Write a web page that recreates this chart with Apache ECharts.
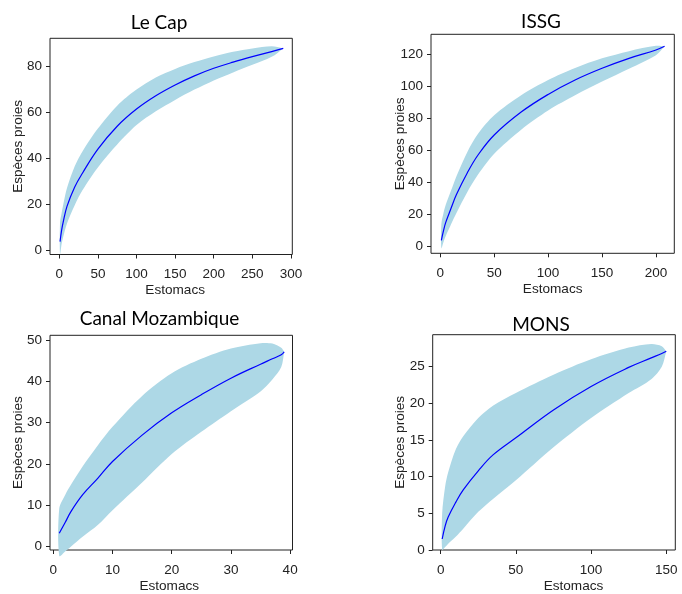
<!DOCTYPE html>
<html>
<head>
<meta charset="utf-8">
<script src="https://cdn.jsdelivr.net/npm/echarts@6/dist/echarts.min.js"></script>
<style>
html,body{margin:0;padding:0;background:#fff;}
#chart{width:682px;height:594px;}
</style>
</head>
<body>
<div id="chart"></div>
<script>
// ---------- data ----------
const titles = ['Le Cap', 'ISSG', 'Canal Mozambique', 'MONS'];
const xAxisName = 'Estomacs';
const yAxisName = 'Espèces proies';

// Le Cap
const capX     = [1, 3, 5, 10, 20, 30, 50, 75, 100, 125, 150, 175, 200, 225, 250, 275, 290];
const capMean  = [3.6, 8.5, 12, 19, 27.5, 33.5, 44, 54, 61.5, 67.3, 72, 76, 79.3, 82, 84.4, 86.6, 88];
const capUpper = [12, 16, 19.5, 27, 36.5, 43, 53, 63, 70, 75.3, 79, 82, 84.5, 86.5, 88, 88.9, 88];
const capLower = [-2, 2.5, 5.5, 11.5, 19.5, 26, 36, 46, 54.5, 60.5, 65.5, 70, 74, 77.5, 80.8, 84.3, 88];
const capXTicks = [0, 50, 100, 150, 200, 250, 300];
const capYTicks = [0, 20, 40, 60, 80];

// ISSG
const issgX     = [1, 3, 5, 10, 15, 25, 35, 50, 75, 100, 125, 150, 175, 200, 208];
const issgMean  = [4, 10, 15, 24, 32.5, 46, 57.2, 69.7, 84, 95, 104, 111.3, 117.5, 122.7, 125];
const issgUpper = [14, 21, 26, 35, 44, 59, 70.5, 82, 94.5, 104, 111.5, 117.5, 122, 125.3, 125];
const issgLower = [-1, 3, 6.5, 14, 21, 34, 45, 58, 73, 85, 94.5, 103, 111, 119.5, 125];
const issgXTicks = [0, 50, 100, 150, 200];
const issgYTicks = [0, 20, 40, 60, 80, 100, 120];

// Canal Mozambique
const canX     = [1, 2, 3, 5, 7.5, 10, 15, 20, 25, 30, 35, 37, 38.5, 39];
const canMean  = [3.2, 5.8, 8.5, 12.6, 16.5, 20.6, 27, 32.4, 36.8, 40.8, 44.2, 45.5, 46.5, 47.2];
const canUpper = [9.2, 12.5, 15, 19.5, 24.5, 29, 36.5, 42, 45.5, 48, 49.3, 49.2, 48.2, 47.2];
const canLower = [-2.3, -1.2, 0, 2.4, 5.2, 8.8, 15.5, 22.4, 27.8, 32.8, 37.6, 40.5, 43.5, 47.2];
const canXTicks = [0, 10, 20, 30, 40];
const canYTicks = [0, 10, 20, 30, 40, 50];

// MONS
const monsX     = [1, 3, 5, 10, 15, 25, 35, 50, 75, 100, 125, 140, 147, 150];
const monsMean  = [1.5, 3.3, 4.5, 6.5, 8.2, 10.8, 13.0, 15.3, 19.1, 22.3, 24.9, 26.2, 26.8, 27.1];
const monsUpper = [5, 8.7, 10.6, 13.7, 15.5, 18, 19.7, 21.4, 23.9, 26, 27.6, 28.1, 27.8, 27.1];
const monsLower = [0, 0.4, 0.85, 1.8, 2.9, 5.2, 7, 9.5, 14, 18, 21.4, 23.3, 25, 27.1];
const monsXTicks = [0, 50, 100, 150];
const monsYTicks = [0, 5, 10, 15, 20, 25];

// ---------- layout ----------
const panels = [
  {x: capX, mean: capMean, up: capUpper, lo: capLower, xt: capXTicks, yt: capYTicks,
   grid: {left: 50, top: 38.3, width: 242.3, height: 216.2},
   xr: [-12, 301.7], yr: [-2, 92.4], title: {x: 159, y: 13}, xPad: 8, yGap: 25},
  {x: issgX, mean: issgMean, up: issgUpper, lo: issgLower, xt: issgXTicks, yt: issgYTicks,
   grid: {left: 431, top: 34.3, width: 243.3, height: 219},
   xr: [-8.6, 217], yr: [-4.1, 132.5], title: {x: 541, y: 12}, xPad: 0, yGap: 24},
  {x: canX, mean: canMean, up: canUpper, lo: canLower, xt: canXTicks, yt: canYTicks,
   grid: {left: 50, top: 335.3, width: 242.5, height: 217},
   xr: [-0.56, 40.4], yr: [-0.86, 51.2], title: {x: 159.5, y: 309}, xPad: -4, yGap: 25},
  {x: monsX, mean: monsMean, up: monsUpper, lo: monsLower, xt: monsXTicks, yt: monsYTicks,
   grid: {left: 432.7, top: 334.7, width: 242.6, height: 217.3},
   xr: [-5.3, 156], yr: [0, 29.36], title: {x: 541, y: 315.5}, xPad: 39, yGap: 25.5}
];

const tickFont = {fontFamily: 'Liberation Sans', fontSize: 13.5, color: '#222'};
const nameFont = {fontFamily: 'Liberation Sans', fontSize: 13.6, color: '#222'};

const option = {
  backgroundColor: '#fff',
  animation: false,
  title: [], grid: [], xAxis: [], yAxis: [], series: []
};

panels.forEach((p, i) => {
  option.title.push({
    text: titles[i], left: p.title.x, top: p.title.y, textAlign: 'center', padding: 0,
    textStyle: {fontFamily: 'Lato', fontSize: 19, fontWeight: 'normal', color: '#000'}
  });
  option.grid.push(Object.assign({show: true, borderColor: '#222', borderWidth: 1,
                                  backgroundColor: 'transparent', containLabel: false}, p.grid));
  option.xAxis.push({
    type: 'value', gridIndex: i, min: p.xr[0], max: p.xr[1], position: 'bottom',
    axisLine: {show: false, onZero: false}, splitLine: {show: false},
    axisTick: {show: true, inside: false, length: 4, customValues: p.xt, lineStyle: {color: '#222', width: 1}},
    axisLabel: Object.assign({show: true, margin: 13, customValues: p.xt}, tickFont),
    name: xAxisName, nameLocation: 'middle', nameGap: 29, nameMoveOverlap: false,
    nameTextStyle: Object.assign({padding: p.xPad >= 0 ? [0, 0, 0, p.xPad] : [0, -p.xPad, 0, 0]}, nameFont)
  });
  option.yAxis.push({
    type: 'value', gridIndex: i, min: p.yr[0], max: p.yr[1], position: 'left',
    axisLine: {show: false, onZero: false}, splitLine: {show: false},
    axisTick: {show: true, inside: false, length: 4, customValues: p.yt, lineStyle: {color: '#222', width: 1}},
    axisLabel: Object.assign({show: true, margin: 8, customValues: p.yt}, tickFont),
    name: yAxisName, nameLocation: 'middle', nameGap: p.yGap, nameRotate: 90, nameMoveOverlap: false,
    nameTextStyle: nameFont
  });
  // confidence band: polygon through upper (forward) then lower (backward), via axis scales
  option.series.push({
    type: 'custom', xAxisIndex: i, yAxisIndex: i, silent: true, clip: false, z: 1,
    data: [[p.x[0], p.mean[0]]],
    renderItem: function (params, api) {
      const pts = [];
      for (let k = 0; k < p.x.length; k++) pts.push(api.coord([p.x[k], p.up[k]]));
      for (let k = p.x.length - 1; k >= 0; k--) pts.push(api.coord([p.x[k], p.lo[k]]));
      return {type: 'polygon', shape: {points: pts, smooth: 0.3},
              style: {fill: '#ADD8E6', stroke: null}};
    }
  });
  option.series.push({
    type: 'line', xAxisIndex: i, yAxisIndex: i, symbol: 'none', smooth: 0.4,
    clip: false, silent: true, z: 3,
    data: p.x.map((x, k) => [x, p.mean[k]]),
    lineStyle: {color: '#0000FF', width: 1.2}
  });
});

const chart = echarts.init(document.getElementById('chart'), null, {renderer: 'canvas'});
chart.setOption(option);
</script>
</body>
</html>
